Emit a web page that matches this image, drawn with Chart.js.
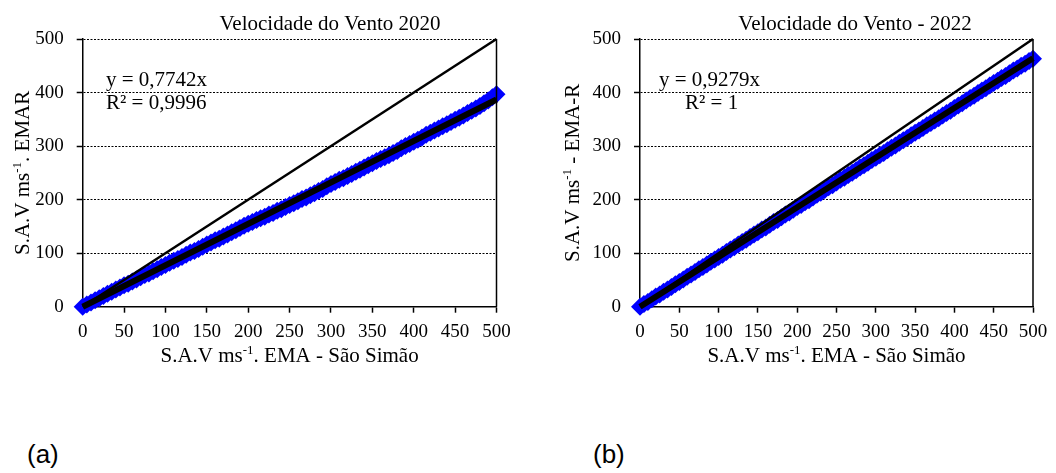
<!DOCTYPE html>
<html>
<head>
<meta charset="utf-8">
<script src="https://cdn.jsdelivr.net/npm/chart.js@4/dist/chart.umd.min.js"></script>
<style>
  html, body { margin:0; padding:0; background:#fff; }
  body { width:1056px; height:473px; position:relative; overflow:hidden; }
  .wrap { position:absolute; top:0; height:370px; }
  .panel { position:absolute; font-family:"Liberation Sans", Arial, sans-serif; font-size:26px; color:#000; line-height:1; }
</style>
</head>
<body>
<div class="wrap" style="left:0;width:540px;"><canvas id="cA" width="540" height="370"></canvas></div>
<div class="wrap" style="left:540px;width:516px;"><canvas id="cB" width="516" height="370"></canvas></div>
<div class="panel" style="left:27px;top:441px;">(a)</div>
<div class="panel" style="left:593px;top:441px;">(b)</div>
<script>
// ---- data ----
const xValues = [0,5,10,15,20,25,30,35,40,45,50,55,60,65,70,75,80,85,90,95,
  100,105,110,115,120,125,130,135,140,145,150,155,160,165,170,175,180,185,190,195,
  200,205,210,215,220,225,230,235,240,245,250,255,260,265,270,275,280,285,290,295,
  300,305,310,315,320,325,330,335,340,345,350,355,360,365,370,375,380,385,390,395,
  400,405,410,415,420,425,430,435,440,445,450,455,460,465,470,475,480,485,490,495,500];
const yEmar2020 = [0,4,8,12,16,20,24,28,32,36,40,43,47,51,55,59,62,66,70,74,
  78,82,86,89,93,97,101,104,108,112,116,120,124,127,131,135,139,143,147,151,
  155,158,162,165,168,172,175,179,182,186,190,193,197,201,204,208,212,216,220,225,
  229,233,237,240,244,248,252,256,260,264,268,272,276,279,283,287,291,296,300,304,
  308,312,316,321,325,329,333,337,341,345,349,353,357,362,366,370,375,380,385,391,397];
const yEmaR2022 = [0,5,9,14,19,23,28,32,37,42,46,51,56,60,65,70,74,79,84,88,
  93,97,102,107,111,116,121,125,130,135,139,144,148,153,158,162,167,172,176,181,
  186,190,195,199,204,209,213,218,223,227,232,237,241,246,250,255,260,264,269,274,
  278,283,287,292,297,301,306,311,315,320,325,329,334,339,343,348,352,357,362,366,
  371,376,380,385,390,394,399,404,408,413,418,422,427,431,436,441,445,450,454,459,463];
const trendX = [0, 500];
const trend2020 = [0, 387.1];
const trend2022 = [0, 463.95];
const oneToOneX = [0, 500];
const oneToOneY = [0, 500];
const xTicks = [0,50,100,150,200,250,300,350,400,450,500];
const yTicks = [0,100,200,300,400,500];
const titles = ["Velocidade do Vento 2020", "Velocidade do Vento - 2022"];
const eqs = [["y = 0,7742x", "R² = 0,9996"], ["y = 0,9279x", "R² = 1"]];
// axis titles: [before superscript, superscript, after]
const yTitles = [["S.A.V ms", "-1", ". EMAR"], ["S.A.V ms", "-1", " - EMA-R"]];
const xTitle = ["S.A.V ms", "-1", ". EMA - São Simão"];

const SERIF = '"Liberation Serif", "Times New Roman", serif';

function pts(xs, ys){ return xs.map((x,i)=>({x:x, y:ys[i]})); }

function drawSupText(ctx, parts, cx, cy){
  const big = '21px ' + SERIF, small = '13px ' + SERIF;
  ctx.font = big; const w0 = ctx.measureText(parts[0]).width; const w2 = ctx.measureText(parts[2]).width;
  ctx.font = small; const w1 = ctx.measureText(parts[1]).width;
  let x = cx - (w0 + w1 + w2) / 2;
  ctx.textAlign = 'left'; ctx.textBaseline = 'alphabetic';
  const base = cy + 7;
  ctx.font = big; ctx.fillText(parts[0], x, base); x += w0;
  ctx.font = small; ctx.fillText(parts[1], x, base - 8); x += w1;
  ctx.font = big; ctx.fillText(parts[2], x, base);
}

function makeChart(id, yData, trendY, idx, cfg){
  const textPlugin = {
    id:'txt'+idx,
    afterDraw(chart){
      const ctx = chart.ctx;
      const ca = chart.chartArea;
      ctx.save();
      ctx.strokeStyle = '#000'; ctx.lineWidth = 1.5; ctx.setLineDash([]);
      ctx.beginPath(); ctx.moveTo(ca.right, ca.top); ctx.lineTo(ca.right, ca.bottom); ctx.stroke();
      ctx.fillStyle = '#000';
      ctx.textBaseline = 'middle';
      ctx.font = '21px ' + SERIF;
      ctx.textAlign = 'center';
      ctx.fillText(titles[idx], cfg.titleX, 24);
      ctx.textAlign = 'left';
      ctx.fillText(eqs[idx][0], cfg.eqX1, 80);
      ctx.fillText(eqs[idx][1], cfg.eqX2, 103);
      // x axis title
      drawSupText(ctx, xTitle, (ca.left + ca.right) / 2, 355);
      // y axis title
      ctx.save();
      ctx.translate(cfg.yTitleX, (ca.top + ca.bottom) / 2);
      ctx.rotate(-Math.PI / 2);
      drawSupText(ctx, yTitles[idx], 0, 0);
      ctx.restore();
      ctx.restore();
    }
  };
  return new Chart(document.getElementById(id), {
    type:'scatter',
    data:{
      datasets:[
        { label:'data', data:pts(xValues, yData), backgroundColor:'#0000ff', borderColor:'#0000ff',
          pointStyle:'rectRot', pointRadius:9, pointHoverRadius:9, borderWidth:0, clip:false, order:3 },
        { label:'trend', type:'line', data:pts(trendX, trendY), borderColor:'#000', borderWidth:6,
          pointRadius:0, fill:false, order:2, clip:false },
        { label:'1:1', type:'line', data:pts(oneToOneX, oneToOneY), borderColor:'#000', borderWidth:2.5,
          pointRadius:0, fill:false, order:1, clip:false }
      ]
    },
    options:{
      responsive:false, animation:false,
      layout:{ padding:{ left:0, right:cfg.padRight, top:39, bottom:0 } },
      plugins:{ legend:{display:false}, tooltip:{enabled:false} },
      scales:{
        x:{
          type:'linear', min:0, max:500,
          afterBuildTicks(s){ s.ticks = xTicks.map(v=>({value:v})); },
          ticks:{ color:'#000', font:{family:SERIF, size:19}, padding:8, maxRotation:0, autoSkip:false },
          grid:{ drawOnChartArea:false, drawTicks:true, tickLength:6, color:'#000', tickWidth:1.5 },
          border:{ display:true, color:'#000', width:1.5 },
          title:{ display:false },
          afterFit(s){ s.height = 63.3; }
        },
        y:{
          type:'linear', min:0, max:500,
          afterBuildTicks(s){ s.ticks = yTicks.map(v=>({value:v})); },
          ticks:{ color:'#000', font:{family:SERIF, size:19}, padding:13, autoSkip:false },
          grid:{ drawOnChartArea:true, drawTicks:true, tickLength:6, color:'#000', lineWidth:1, tickColor:'#000', tickWidth:1.5 },
          border:{ display:true, color:'#000', width:1.5, dash:[2,1.5] },
          title:{ display:false },
          afterFit(s){ s.width = cfg.yWidth; }
        }
      }
    },
    plugins:[textPlugin]
  });
}

makeChart('cA', yEmar2020, trend2020, 0, { padRight:43.5, yWidth:82.7, yTitleX:22, titleX:330, eqX1:106, eqX2:106 });
makeChart('cB', yEmaR2022, trend2022, 1, { padRight:23, yWidth:100, yTitleX:32, titleX:315, eqX1:119, eqX2:145 });
</script>
</body>
</html>
